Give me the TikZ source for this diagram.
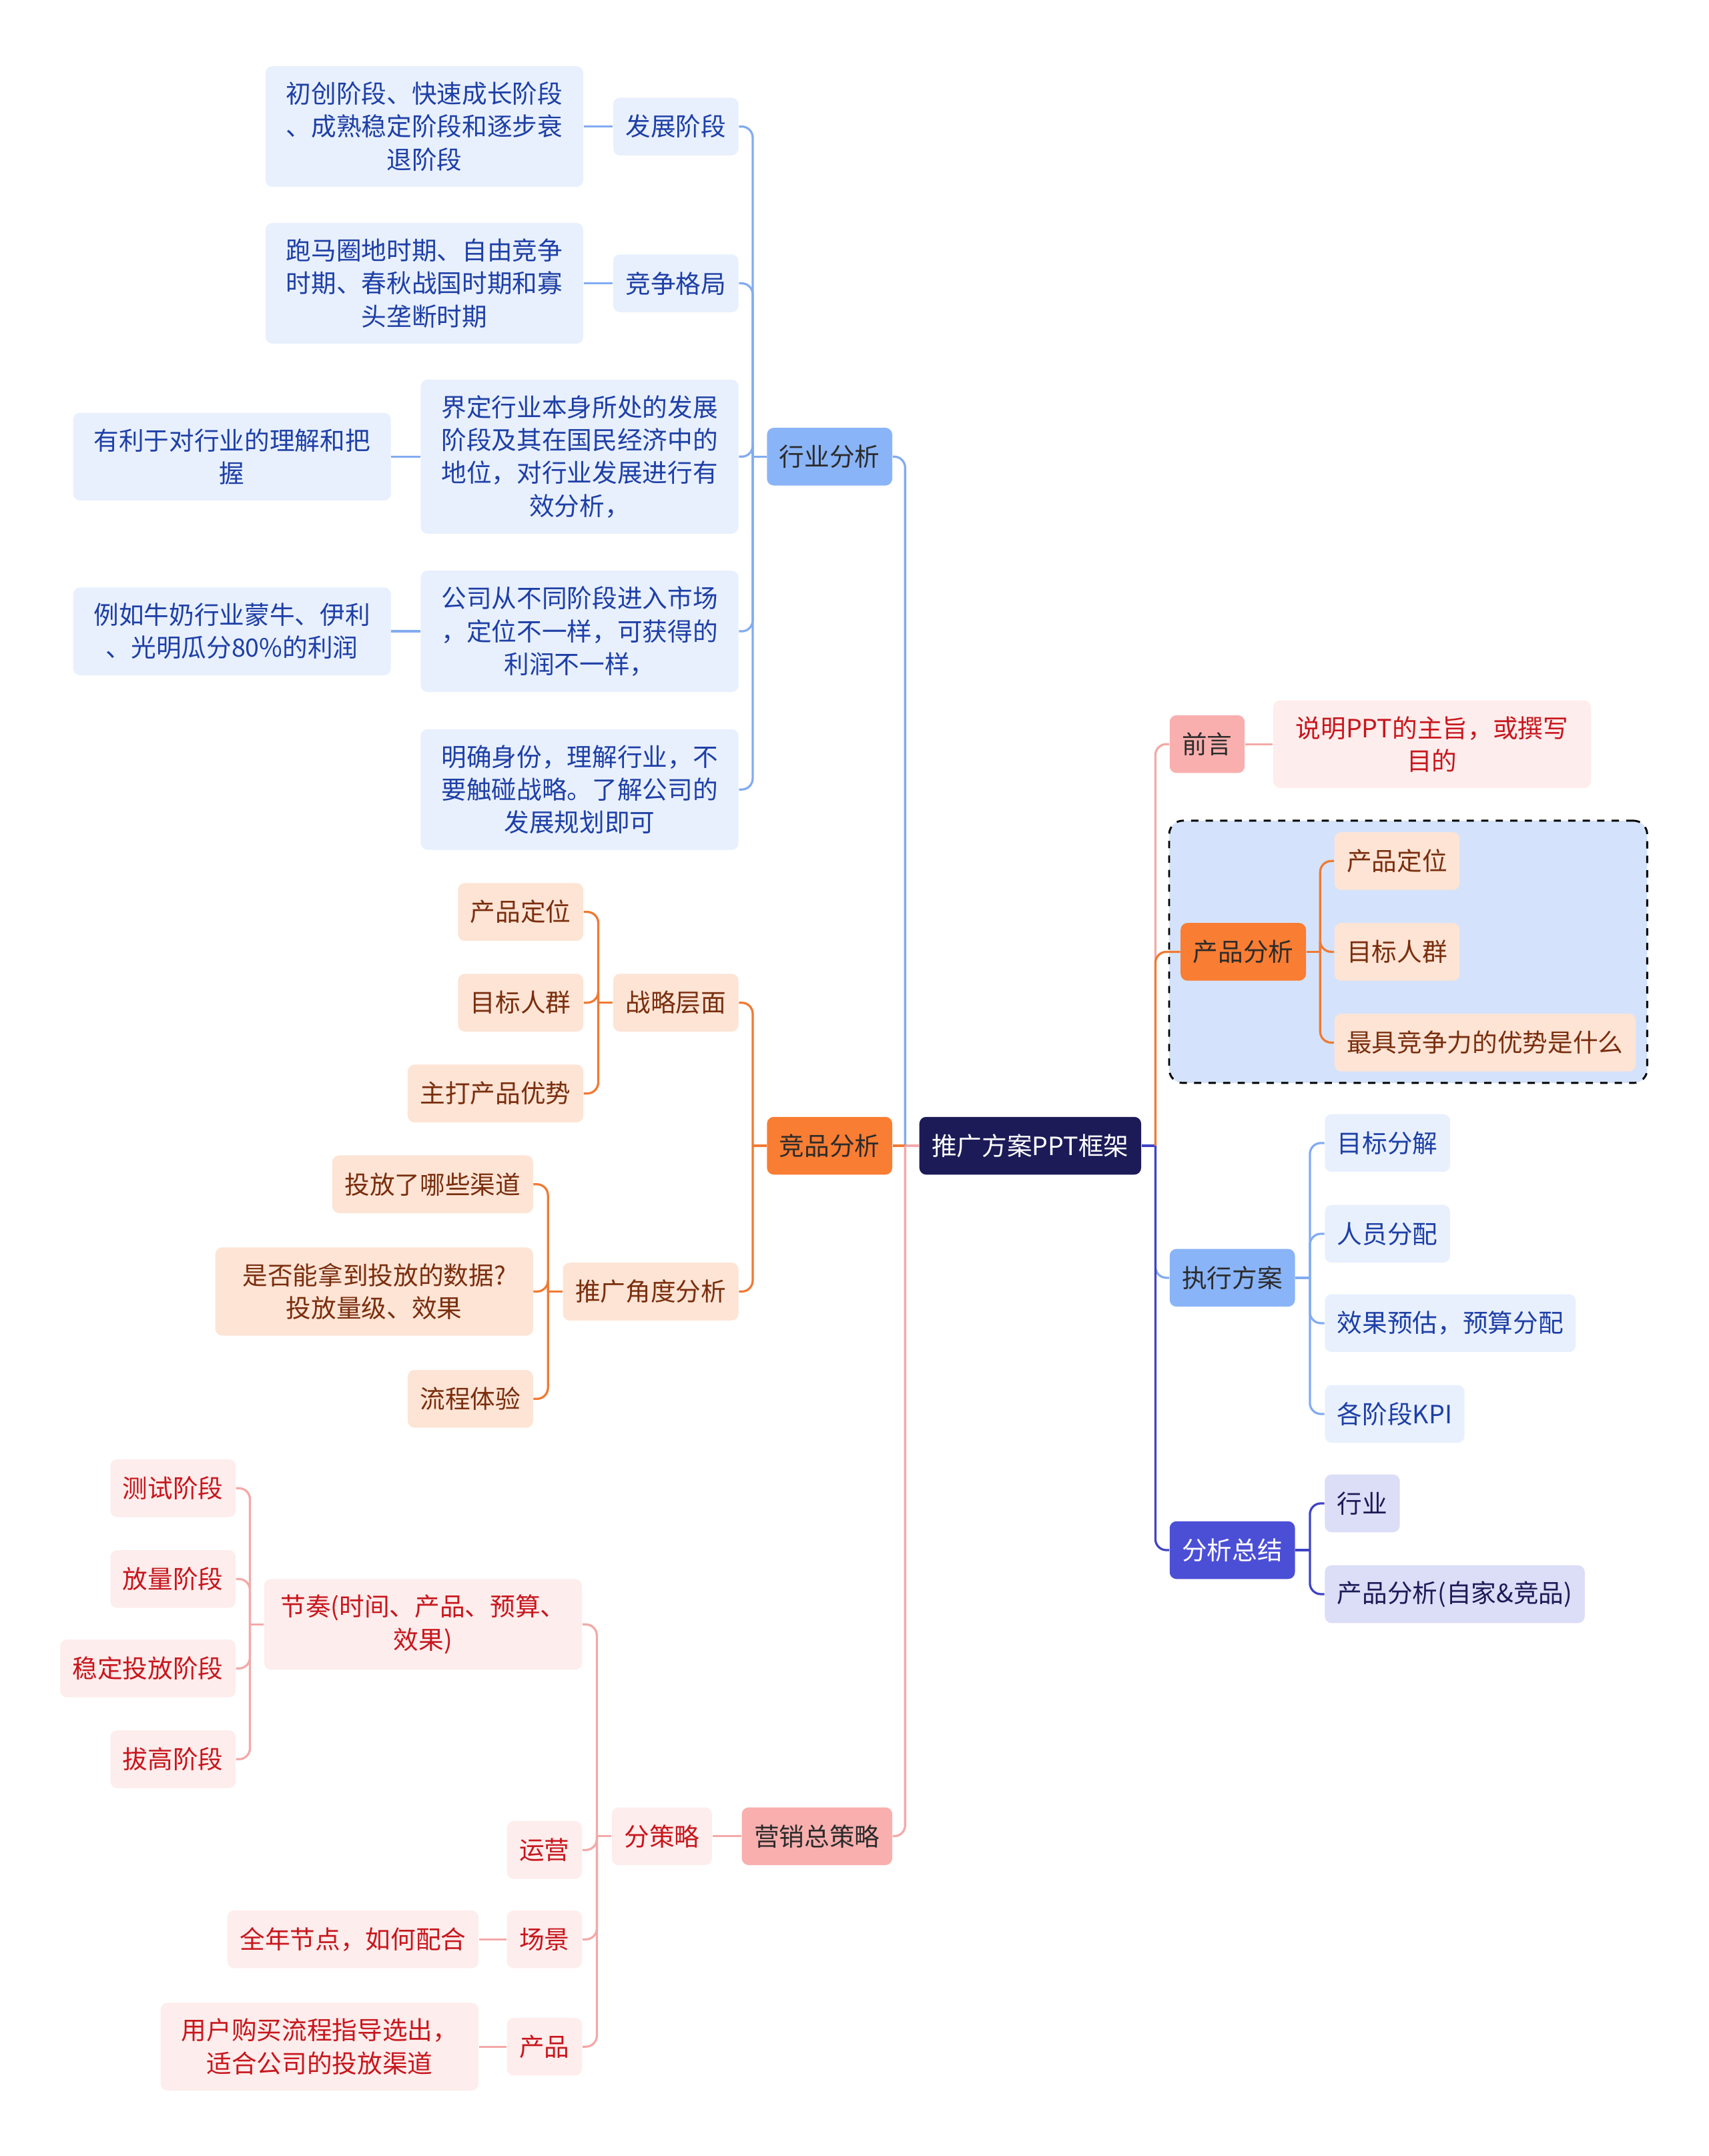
\documentclass[tikz,border=0pt]{standalone}
\usepackage{fontspec}
\newfontfamily\cjk{Noto Sans CJK SC}
\usepackage{tikz}
\usetikzlibrary{positioning, fit, backgrounds}
\definecolor{rootfill}{HTML}{1C1B58}
\definecolor{hfill}{HTML}{8AB4F8}
\definecolor{ofill}{HTML}{F97D33}
\definecolor{pfill}{HTML}{F9AFAE}
\definecolor{vfill}{HTML}{4B4FD6}
\definecolor{hsubfill}{HTML}{E8F0FD}
\definecolor{osubfill}{HTML}{FDE4D5}
\definecolor{psubfill}{HTML}{FDEDEC}
\definecolor{vsubfill}{HTML}{DCDDF6}
\definecolor{htext}{HTML}{1E3FA6}
\definecolor{otext}{HTML}{7A2E0E}
\definecolor{ptext}{HTML}{C8161D}
\definecolor{vtext}{HTML}{1C1B58}
\definecolor{dtext}{HTML}{2B2B2B}
\definecolor{grpfill}{HTML}{D4E3FB}
\definecolor{hlinec}{HTML}{82ABF2}
\definecolor{olinec}{HTML}{F07A33}
\definecolor{plinec}{HTML}{F3A9A8}
\definecolor{vlinec}{HTML}{3F43C4}
\newcommand{\mapfont}{\cjk\fontsize{10.4}{13.6}\selectfont}
\tikzstyle{every node}=[font=\mapfont]
\tikzstyle{box}=[rectangle, rounded corners=0.1cm, minimum height=0.84cm, inner xsep=0.18cm, inner ysep=0.23cm]
\tikzstyle{multi}=[text width=4.26cm, align=center]
\tikzstyle{rootbox}=[box, fill=rootfill, text=white]
\tikzstyle{hbox}=[box, fill=hfill, text=dtext]
\tikzstyle{obox}=[box, fill=ofill, text=dtext]
\tikzstyle{pbox}=[box, fill=pfill, text=dtext]
\tikzstyle{vbox}=[box, fill=vfill, text=white]
\tikzstyle{hsub}=[box, fill=hsubfill, text=htext]
\tikzstyle{osub}=[box, fill=osubfill, text=otext]
\tikzstyle{psub}=[box, fill=psubfill, text=ptext]
\tikzstyle{vsub}=[box, fill=vsubfill, text=vtext]
\tikzstyle{groupbox}=[draw=black, dashed, line width=0.8pt, fill=grpfill, rounded corners=0.2cm, inner sep=0.16cm]
\tikzstyle{hline}=[draw=hlinec, line width=0.9pt, rounded corners=0.16cm]
\tikzstyle{oline}=[draw=olinec, line width=0.9pt, rounded corners=0.16cm]
\tikzstyle{pline}=[draw=plinec, line width=0.9pt, rounded corners=0.16cm]
\tikzstyle{vline}=[draw=vlinec, line width=0.9pt, rounded corners=0.16cm]

\begin{document}
\begin{tikzpicture}
  \useasboundingbox (0,0) rectangle (24.84,-31.35);
  % centre and first level
  \node[rootbox] (root) at (14.98,-16.66) {推广方案PPT框架};
  \node[hbox, left=0.38cm of root, yshift=10.02cm] (hyfx) {行业分析};
  \node[obox, left=0.38cm of root] (jpfx) {竞品分析};
  \node[pbox, left=0.38cm of root, yshift=-10.04cm] (yxcl) {营销总策略};
  \node[pbox, right=0.4cm of root, yshift=5.84cm] (qy) {前言};
  \node[obox, right=0.56cm of root, yshift=2.82cm] (cpfx) {产品分析};
  \node[hbox, right=0.4cm of root, yshift=-1.92cm] (zxfa) {执行方案};
  \node[vbox, right=0.4cm of root, yshift=-5.88cm] (fxzj) {分析总结};

  % 行业分析
  \node[hsub, left=0.4cm of hyfx, yshift=4.8cm] (fzjd) {发展阶段};
  \node[hsub, left=0.4cm of hyfx, yshift=2.52cm] (jzgj) {竞争格局};
  \node[hsub, multi, left=0.4cm of hyfx] (jdhy) {界定行业本身所处的发展\\阶段及其在国民经济中的\\地位，对行业发展进行有\\效分析，};
  \node[hsub, multi, left=0.4cm of hyfx, yshift=-2.54cm] (gscd) {公司从不同阶段进入市场\\，定位不一样，可获得的\\利润不一样，};
  \node[hsub, multi, left=0.4cm of hyfx, yshift=-4.84cm] (mqsf) {明确身份，理解行业，不\\要触碰战略。了解公司的\\发展规划即可};
  \node[hsub, multi, left=0.42cm of fzjd] (ccjd) {初创阶段、快速成长阶段\\、成熟稳定阶段和逐步衰\\退阶段};
  \node[hsub, multi, left=0.42cm of jzgj] (pmqd) {跑马圈地时期、自由竞争\\时期、春秋战国时期和寡\\头垄断时期};
  \node[hsub, multi, left=0.42cm of jdhy] (ylyd) {有利于对行业的理解和把\\握};
  \node[hsub, multi, left=0.42cm of gscd] (lrnn) {例如牛奶行业蒙牛、伊利\\、光明瓜分80\%的利润};

  % 竞品分析
  \node[osub, left=0.4cm of jpfx, yshift=2.08cm] (zlcm) {战略层面};
  \node[osub, left=0.4cm of jpfx, yshift=-2.12cm] (tgjd) {推广角度分析};
  \node[osub, left=0.42cm of zlcm, yshift=1.32cm] (cpdwa) {产品定位};
  \node[osub, left=0.42cm of zlcm] (mbrqa) {目标人群};
  \node[osub, left=0.42cm of zlcm, yshift=-1.32cm] (zdys) {主打产品优势};
  \node[osub, left=0.42cm of tgjd, yshift=1.56cm] (tfqd) {投放了哪些渠道};
  \node[osub, multi, left=0.42cm of tgjd] (sfnd) {是否能拿到投放的数据?\\投放量级、效果};
  \node[osub, left=0.42cm of tgjd, yshift=-1.56cm] (lcty) {流程体验};

  % 营销总策略
  \node[psub, left=0.42cm of yxcl] (fcl) {分策略};
  \node[psub, multi, left=0.42cm of fcl, yshift=3.08cm] (jz) {节奏(时间、产品、预算、\\效果)};
  \node[psub, left=0.42cm of fcl, yshift=-0.2cm] (yy) {运营};
  \node[psub, left=0.42cm of fcl, yshift=-1.5cm] (cj) {场景};
  \node[psub, left=0.42cm of fcl, yshift=-3.06cm] (cp) {产品};
  \node[psub, left=0.4cm of jz, yshift=1.98cm] (csjd) {测试阶段};
  \node[psub, left=0.4cm of jz, yshift=0.66cm] (fljd) {放量阶段};
  \node[psub, left=0.4cm of jz, yshift=-0.64cm] (wdjd) {稳定投放阶段};
  \node[psub, left=0.4cm of jz, yshift=-1.96cm] (bgjd) {拔高阶段};
  \node[psub, left=0.4cm of cj] (qnjd) {全年节点，如何配合};
  \node[psub, multi, left=0.4cm of cp] (yhgm) {用户购买流程指导选出，\\适合公司的投放渠道};

  % right side
  \node[psub, multi, right=0.4cm of qy] (smzz) {说明PPT的主旨，或撰写\\目的};
  \node[osub, right=0.4cm of cpfx, yshift=1.32cm] (cpdwb) {产品定位};
  \node[osub, right=0.4cm of cpfx] (mbrqb) {目标人群};
  \node[osub, right=0.4cm of cpfx, yshift=-1.32cm] (mjjz) {最具竞争力的优势是什么};
  \node[hsub, right=0.42cm of zxfa, yshift=1.96cm] (mbfj) {目标分解};
  \node[hsub, right=0.42cm of zxfa, yshift=0.64cm] (ryfp) {人员分配};
  \node[hsub, right=0.42cm of zxfa, yshift=-0.66cm] (xgyg) {效果预估，预算分配};
  \node[hsub, right=0.42cm of zxfa, yshift=-1.98cm] (kpi) {各阶段KPI};
  \node[vsub, right=0.42cm of fxzj, yshift=0.68cm] (hy) {行业};
  \node[vsub, right=0.42cm of fxzj, yshift=-0.64cm] (cpzj) {产品分析(自家\&竞品)};

  \begin{scope}[on background layer]
    \node[groupbox, fit=(cpfx)(cpdwb)(mjjz)] (grp) {};
  \end{scope}

  % connectors from the centre
  \draw[pline] (root.west) -- ++(-0.2,0) coordinate (jl);
  \draw[hline] (jl) |- (hyfx.east);
  \draw[oline] (jl) -- (jpfx.east);
  \draw[pline] (jl) |- (yxcl.east);
  \draw[vline] (root.east) -- ++(0.2,0) coordinate (jr);
  \draw[pline] (jr) |- (qy.west);
  \draw[oline] (jr) |- (cpfx.west);
  \draw[hline] (jr) |- (zxfa.west);
  \draw[vline] (jr) |- (fxzj.west);

  % 行业分析
  \draw[hline] (hyfx.west) -- ++(-0.2,0) coordinate (jh);
  \draw[hline] (jh) |- (fzjd.east);
  \draw[hline] (jh) |- (jzgj.east);
  \draw[hline] (jh) |- (jdhy.east);
  \draw[hline] (jh) |- (gscd.east);
  \draw[hline] (jh) |- (mqsf.east);
  \draw[hline] (fzjd) -- (ccjd);
  \draw[hline] (jzgj) -- (pmqd);
  \draw[hline] (jdhy) -- (ylyd);
  \draw[hline] (gscd) -- (lrnn);

  % 竞品分析
  \draw[oline] (jpfx.west) -- ++(-0.2,0) coordinate (jo);
  \draw[oline] (jo) |- (zlcm.east);
  \draw[oline] (jo) |- (tgjd.east);
  \draw[oline] (zlcm.west) -- ++(-0.21,0) coordinate (jzl);
  \draw[oline] (jzl) |- (cpdwa.east);
  \draw[oline] (jzl) |- (mbrqa.east);
  \draw[oline] (jzl) |- (zdys.east);
  \draw[oline] (tgjd.west) -- ++(-0.21,0) coordinate (jtg);
  \draw[oline] (jtg) |- (tfqd.east);
  \draw[oline] (jtg) |- (sfnd.east);
  \draw[oline] (jtg) |- (lcty.east);

  % 营销总策略
  \draw[pline] (yxcl) -- (fcl);
  \draw[pline] (fcl.west) -- ++(-0.21,0) coordinate (jf);
  \draw[pline] (jf) |- (jz.east);
  \draw[pline] (jf) |- (yy.east);
  \draw[pline] (jf) |- (cj.east);
  \draw[pline] (jf) |- (cp.east);
  \draw[pline] (jz.west) -- ++(-0.2,0) coordinate (jj);
  \draw[pline] (jj) |- (csjd.east);
  \draw[pline] (jj) |- (fljd.east);
  \draw[pline] (jj) |- (wdjd.east);
  \draw[pline] (jj) |- (bgjd.east);
  \draw[pline] (cj) -- (qnjd);
  \draw[pline] (cp) -- (yhgm);

  % right side
  \draw[pline] (qy) -- (smzz);
  \draw[oline] (cpfx.east) -- ++(0.2,0) coordinate (jc);
  \draw[oline] (jc) |- (cpdwb.west);
  \draw[oline] (jc) |- (mbrqb.west);
  \draw[oline] (jc) |- (mjjz.west);
  \draw[hline] (zxfa.east) -- ++(0.21,0) coordinate (jx);
  \draw[hline] (jx) |- (mbfj.west);
  \draw[hline] (jx) |- (ryfp.west);
  \draw[hline] (jx) |- (xgyg.west);
  \draw[hline] (jx) |- (kpi.west);
  \draw[vline] (fxzj.east) -- ++(0.21,0) coordinate (jv);
  \draw[vline] (jv) |- (hy.west);
  \draw[vline] (jv) |- (cpzj.west);
\end{tikzpicture}
\end{document}
